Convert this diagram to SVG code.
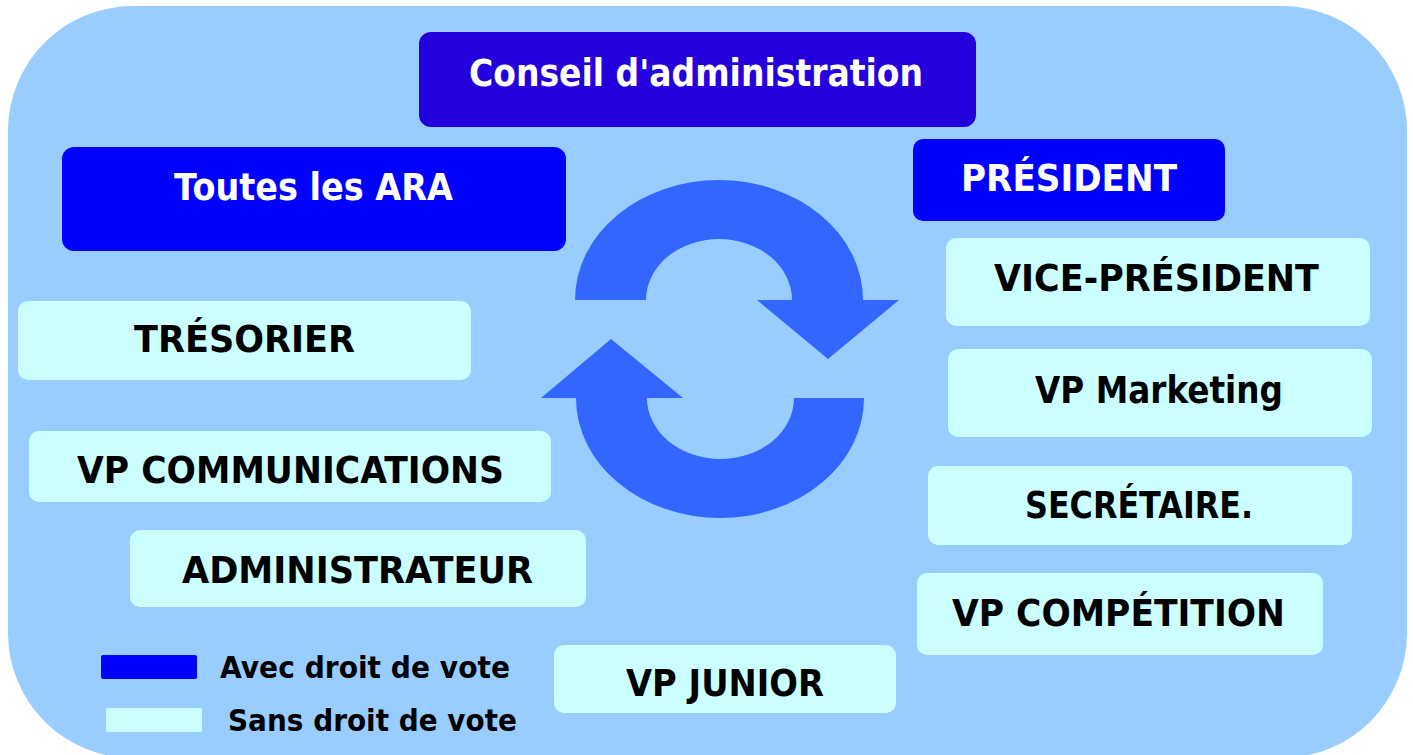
<svg xmlns="http://www.w3.org/2000/svg" width="1413" height="755" viewBox="0 0 1413 755">
<style>
.t{font-family:"DejaVu Sans","Verdana",sans-serif;font-weight:bold;font-size:37px;}
.w{fill:#FFFFFF;}
.k{fill:#000000;}
.vote{fill:#0000FF;}
.novote{fill:#CCFFFF;}
.lg{font-size:31px;}
.arrow{fill:#3366FF;}
</style>
<rect x="8" y="6" width="1399" height="752" rx="125" ry="125" fill="#99CCFF"/>
<g id="connectors">
<path class="arrow" d="M575,300 A144,120 0 0 1 863,300 L899,300 L828,359 L757,300 L792,300 A73,61 0 0 0 646,300 Z"/>
<path class="arrow" d="M864,398 A144,120 0 0 1 576,398 L541,398 L611,339 L683,398 L647,398 A73.5,61 0 0 0 794,398 Z"/>
</g>
<g id="conseil">
<rect x="419" y="32" width="557" height="95" rx="12" fill="#2400DD"/>
<text class="t w" x="469" y="86" font-size="38" textLength="454" lengthAdjust="spacingAndGlyphs">Conseil d'administration</text>
</g>
<g id="ara">
<rect class="vote" x="62" y="147" width="504" height="104" rx="12"/>
<text class="t w" x="174" y="200" textLength="279" lengthAdjust="spacingAndGlyphs">Toutes les ARA</text>
</g>
<g id="president">
<rect class="vote" x="913" y="139" width="312" height="82" rx="10"/>
<text class="t w" x="961" y="191" textLength="216" lengthAdjust="spacingAndGlyphs">PRÉSIDENT</text>
</g>
<g id="vice-president">
<rect class="novote" x="946" y="238" width="424" height="88" rx="10"/>
<text class="t k" x="994" y="291" textLength="325" lengthAdjust="spacingAndGlyphs">VICE-PRÉSIDENT</text>
</g>
<g id="vp-marketing">
<rect class="novote" x="948" y="349" width="424" height="88" rx="10"/>
<text class="t k" x="1035" y="403" textLength="248" lengthAdjust="spacingAndGlyphs">VP Marketing</text>
</g>
<g id="secretaire">
<rect class="novote" x="928" y="466" width="424" height="79" rx="10"/>
<text class="t k" x="1025" y="518" textLength="228" lengthAdjust="spacingAndGlyphs">SECRÉTAIRE.</text>
</g>
<g id="vp-competition">
<rect class="novote" x="917" y="573" width="406" height="82" rx="10"/>
<text class="t k" x="952" y="626" textLength="333" lengthAdjust="spacingAndGlyphs">VP COMPÉTITION</text>
</g>
<g id="tresorier">
<rect class="novote" x="18" y="301" width="453" height="79" rx="10"/>
<text class="t k" x="134" y="352" textLength="221" lengthAdjust="spacingAndGlyphs">TRÉSORIER</text>
</g>
<g id="vp-communications">
<rect class="novote" x="29" y="431" width="522" height="71" rx="10"/>
<text class="t k" x="77" y="483" textLength="427" lengthAdjust="spacingAndGlyphs">VP COMMUNICATIONS</text>
</g>
<g id="administrateur">
<rect class="novote" x="130" y="530" width="456" height="77" rx="10"/>
<text class="t k" x="182" y="583" textLength="351" lengthAdjust="spacingAndGlyphs">ADMINISTRATEUR</text>
</g>
<g id="vp-junior">
<rect class="novote" x="554" y="645" width="342" height="68" rx="10"/>
<text class="t k" x="626" y="696" textLength="198" lengthAdjust="spacingAndGlyphs">VP JUNIOR</text>
</g>
<g id="legend">
<rect class="vote" x="101" y="655" width="96" height="24" rx="2"/>
<text class="t k lg" x="220" y="678" textLength="290" lengthAdjust="spacingAndGlyphs">Avec droit de vote</text>
<rect class="novote" x="106" y="708" width="96" height="24" rx="2"/>
<text class="t k lg" x="228" y="731" textLength="289" lengthAdjust="spacingAndGlyphs">Sans droit de vote</text>
</g>
</svg>
